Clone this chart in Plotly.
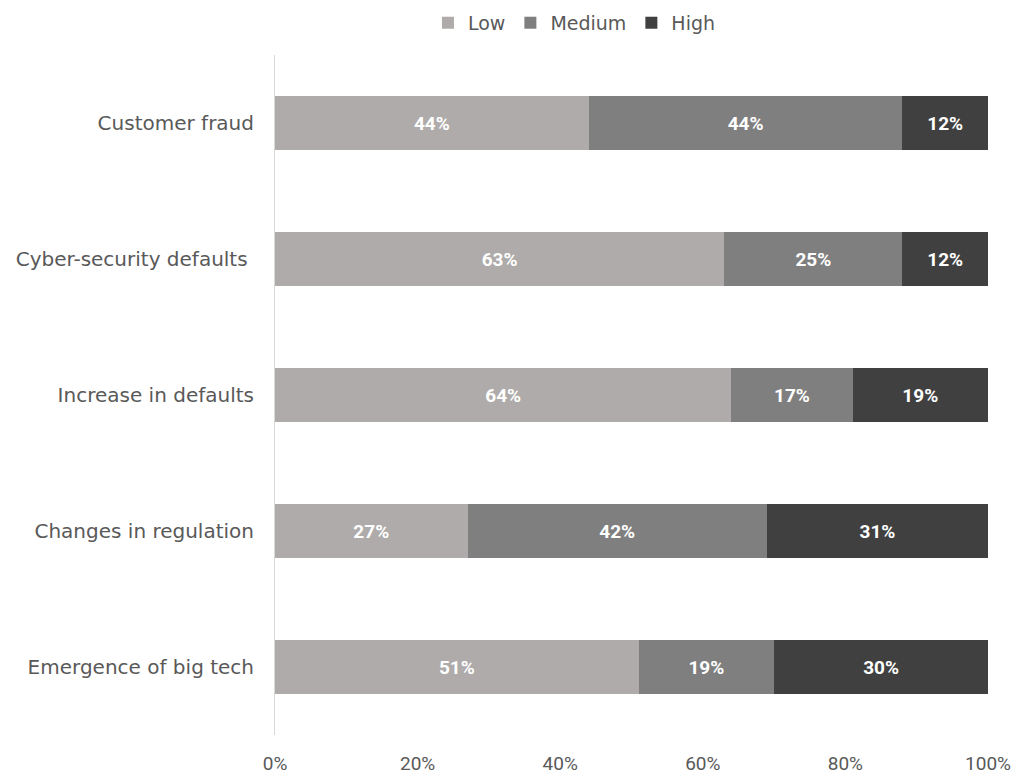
import plotly.graph_objects as go

# Risk categories (top to bottom) and share of responses per impact level
categories = [
    "Customer fraud",
    "Cyber-security defaults ",
    "Increase in defaults",
    "Changes in regulation",
    "Emergence of big tech",
]
low = [44, 63, 64, 27, 51]
medium = [44, 25, 17, 42, 19]
high = [12, 12, 19, 31, 30]

series = [
    ("Low", low, "#AEABAA"),
    ("Medium", medium, "#7F7F7F"),
    ("High", high, "#404040"),
]

tick_vals = [0, 20, 40, 60, 80, 100]
tick_text = ["0%", "20%", "40%", "60%", "80%", "100%"]

LABEL_FONT = "DejaVu Sans"

fig = go.Figure()
for name, vals, color in series:
    fig.add_trace(go.Bar(
        name=name,
        y=categories,
        x=vals,
        orientation="h",
        marker=dict(color=color, line=dict(width=0)),
        text=[f"<b>{v}%</b>" for v in vals],
        textposition="inside",
        insidetextanchor="middle",
        textfont=dict(color="white", size=19, family="Roboto"),
        hoverinfo="skip",
    ))

fig.update_layout(
    barmode="stack",
    bargap=0.6,
    width=1019,
    height=776,
    margin=dict(l=275, r=31, t=55, b=41, autoexpand=False),
    paper_bgcolor="white",
    plot_bgcolor="white",
    font=dict(family=LABEL_FONT, size=19, color="#595959"),
    legend=dict(
        orientation="h",
        x=0.42, xanchor="center",
        y=0.995, yref="container", yanchor="top",
        font=dict(family=LABEL_FONT, size=19, color="#595959"),
        traceorder="normal",
        itemwidth=30,
    ),
    showlegend=True,
)

fig.update_xaxes(
    range=[0, 100],
    tickvals=tick_vals,
    ticktext=tick_text,
    showgrid=False,
    zeroline=False,
    showline=False,
    ticks="",
    automargin=False,
    ticklabelstandoff=15,
    tickfont=dict(family="Roboto", size=19, color="#595959"),
)
fig.update_yaxes(
    autorange="reversed",
    showgrid=False,
    zeroline=False,
    showline=True,
    linecolor="#D9D9D9",
    linewidth=1,
    ticks="",
    automargin=False,
    ticklabelstandoff=16,
    tickfont=dict(family=LABEL_FONT, size=20, color="#595959"),
)

fig.write_html("out.html")
